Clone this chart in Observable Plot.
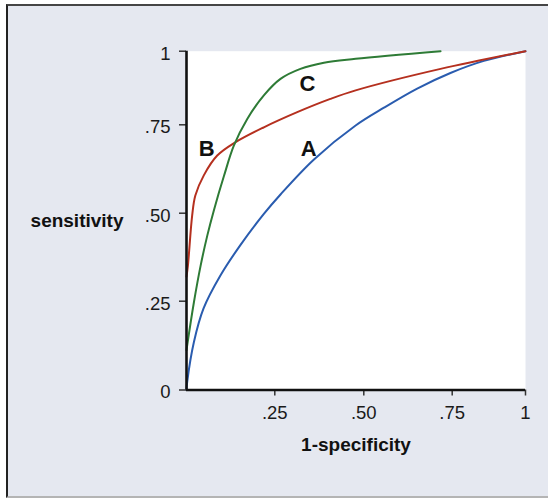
<!DOCTYPE html>
<html><head><meta charset="utf-8">
<script src="https://cdn.jsdelivr.net/npm/d3@7"></script>
<script src="https://cdn.jsdelivr.net/npm/@observablehq/plot@0.6"></script>
<style>
html,body{margin:0;padding:0;background:#fff;overflow:hidden;width:548px;height:498px;}
#panel{position:absolute;left:6px;top:4px;width:600px;height:490px;background:#e5e8f0;border-left:2px solid #222;border-top:2px solid #454545;border-bottom:2px solid #b4b4b4;}
#chart{position:absolute;left:0;top:0;}
</style></head><body>
<div id="panel"></div><div id="chart"></div>
<script>
// Data
const curveNames = ["A", "B", "C"];
const curveColors = ["#2a5caf", "#b5301f", "#2e7b36"];

const aX = [0, 0.002, 0.021, 0.048, 0.096, 0.153, 0.219, 0.266, 0.360, 0.477, 0.557, 0.651, 0.745, 0.858, 1];
const aY = [0, 0.023, 0.135, 0.229, 0.323, 0.410, 0.498, 0.553, 0.652, 0.748, 0.808, 0.873, 0.926, 0.967, 1];

const bX = [0, 0.004, 0.016, 0.025, 0.049, 0.087, 0.139, 0.219, 0.313, 0.406, 0.477, 0.717, 1];
const bY = [0.32, 0.351, 0.493, 0.550, 0.607, 0.663, 0.701, 0.743, 0.793, 0.838, 0.867, 0.940, 1];

const cX = [0, 0.002, 0.021, 0.040, 0.059, 0.078, 0.106, 0.134, 0.172, 0.219, 0.266, 0.322, 0.388, 0.477, 0.717];
const cY = [0.112, 0.126, 0.247, 0.351, 0.437, 0.510, 0.605, 0.691, 0.770, 0.850, 0.906, 0.940, 0.961, 0.974, 1.0];

const labelNames = ["A", "B", "C"];
const labelX = [0.345, 0.057, 0.342];
const labelY = [0.683, 0.683, 0.890];

const xTicks = [0.25, 0.5, 0.75, 1];
const xTickLabels = [".25", ".50", ".75", "1"];
const yTicks = [0, 0.25, 0.5, 0.75, 1];
const yTickLabels = ["0", ".25", ".50", ".75", "1"];

const xTitle = "1-specificity";
const yTitle = "sensitivity";

// The original axes are slightly uneven: the last quarter of each axis is shorter.
const quarters = [0, 0.25, 0.5, 0.75, 1];
const warpX = d3.scaleLinear(quarters, [0, 88.3, 177.3, 265.7, 339]);
const warpY = d3.scaleLinear(quarters, [0, 88.8, 176.8, 265.2, 338.8]);

const rows = [];
[[aX, aY], [bX, bY], [cX, cY]].forEach(([xs, ys], k) => {
  xs.forEach((x, i) => rows.push({curve: curveNames[k], x, y: ys[i]}));
});
const labels = labelNames.map((t, i) => ({t, x: labelX[i], y: labelY[i]}));
const xTickRows = xTicks.map((v, i) => ({v, label: xTickLabels[i]}));
const yTickRows = yTicks.map((v, i) => ({v, label: yTickLabels[i]}));

const font = "'Liberation Sans', Arial, sans-serif";
const chart = Plot.plot({
  width: 548,
  height: 498,
  marginLeft: 186, marginRight: 23, marginTop: 50.7, marginBottom: 108.5,
  style: {background: "transparent", fontFamily: font, fontSize: "18px", color: "#222"},
  x: {domain: [0, warpX(1)]},
  y: {domain: [0, warpY(1)]},
  color: {domain: curveNames, range: curveColors},
  marks: [
    Plot.frame({fill: "white", stroke: null}),
    Plot.line(rows, {x: d => warpX(d.x), y: d => warpY(d.y), z: "curve", stroke: "curve", strokeWidth: 2, curve: "catmull-rom"}),
    Plot.text(labels, {x: d => warpX(d.x), y: d => warpY(d.y), text: "t", fontSize: 22, fontWeight: "bold", fill: "#111"}),
    Plot.axisX(xTicks.map(warpX), {tickFormat: () => "", tickSize: 6, stroke: "#333", strokeWidth: 1.5, label: null}),
    Plot.axisY(yTicks.map(warpY), {tickFormat: () => "", tickSize: 7, stroke: "#333", strokeWidth: 1.5, label: null}),
    Plot.text(xTickRows, {x: d => warpX(d.v), text: "label", frameAnchor: "bottom", lineAnchor: "top", dy: 15.5, fontSize: 18.5, fill: "#1a1a1a"}),
    Plot.text(yTickRows, {y: d => warpY(d.v), text: "label", frameAnchor: "left", textAnchor: "end", dx: -16, dy: 2.5, fontSize: 18.5, fill: "#1a1a1a"}),
    Plot.ruleX([0], {stroke: "#111", strokeWidth: 2.6}),
    Plot.ruleY([0], {stroke: "#111", strokeWidth: 2.6}),
    Plot.text([yTitle], {frameAnchor: "left", textAnchor: "end", dx: -63, fontSize: 19, fontWeight: "bold", fill: "#111"}),
    Plot.text([xTitle], {frameAnchor: "bottom", lineAnchor: "top", dy: 47, fontSize: 19, fontWeight: "bold", fill: "#111"})
  ]
});
document.getElementById("chart").appendChild(chart);
</script>
</body></html>
